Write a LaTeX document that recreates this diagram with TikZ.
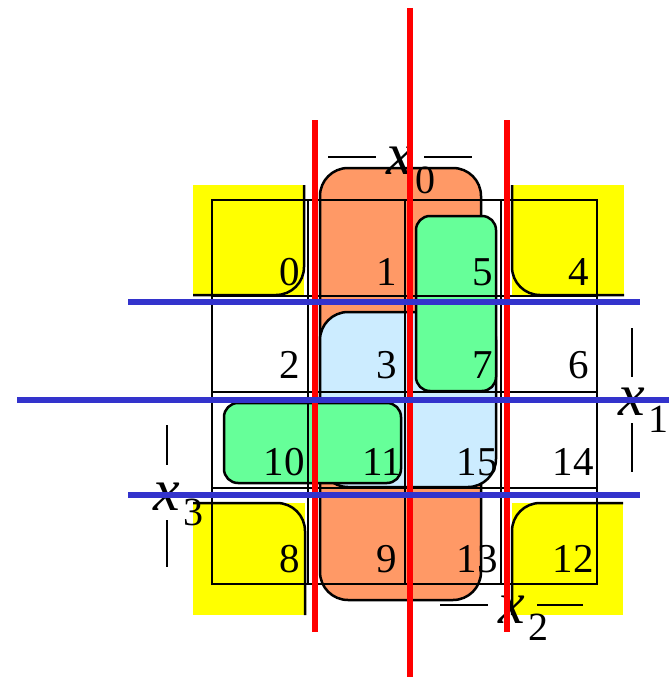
\documentclass[tikz,border=0pt]{standalone}
\usepackage{fontspec}
\setmainfont{Liberation Serif}
\begin{document}
\begin{tikzpicture}[x=1pt,y=-1pt,
  cellnum/.style={anchor=base east,inner sep=0pt,font=\fontsize{41}{44}\selectfont},
  varx/.style={anchor=base,inner sep=0pt,font=\fontsize{60}{62}\selectfont\itshape},
  varsub/.style={anchor=base,inner sep=0pt,font=\fontsize{40}{44}\selectfont},
  edge/.style={draw=black,line width=2.5pt},
  bar/.style={black,line width=1.8pt},
  redline/.style={draw=red,line width=5.5pt},
  blueline/.style={draw=linecol,line width=5.5pt}]
\definecolor{ylw}{HTML}{FFFF00}
\definecolor{org}{HTML}{FF9966}
\definecolor{grn}{HTML}{66FF99}
\definecolor{lbl}{HTML}{CCECFF}
\definecolor{linecol}{HTML}{3333CC}
\useasboundingbox (0,0) rectangle (669,677);
% yellow corners
\fill[ylw] (193,185) rectangle (304,295);
\draw[edge,rounded corners=28] (304,185) -- (304,295) -- (193,295);
\fill[ylw] (512,185) rectangle (624,295);
\draw[edge,rounded corners=28] (512,185) -- (512,295) -- (624,295);
\fill[ylw] (193,503) rectangle (305,615);
\draw[edge,rounded corners=28] (193,503) -- (305,503) -- (305,615);
\fill[ylw] (512,503) rectangle (623,615);
\draw[edge,rounded corners=28] (623,503) -- (512,503) -- (512,615);
% groups
\filldraw[fill=org,edge,rounded corners=28] (320,168) rectangle (481,600);
\filldraw[fill=lbl,edge,rounded corners=28] (320,312) rectangle (496,487);
\filldraw[fill=grn,edge,rounded corners=14] (416,216) rectangle (496,391);
\filldraw[fill=grn,edge,rounded corners=14] (224,403) rectangle (401,483);
% grid
\draw[edge] (212,200) rectangle (597,584);
\foreach \c in {308,405,501} \draw[edge] (\c,200) -- (\c,584);
\foreach \r in {296,392,488} \draw[edge] (212,\r) -- (597,\r);
% numbers
\node[cellnum] (n0) at (300,285) {0};
\node[cellnum] (n1) at (397,285) {1};
\node[cellnum] (n5) at (493,285) {5};
\node[cellnum] (n4) at (589,285) {4};
\node[cellnum] (n2) at (300,378) {2};
\node[cellnum] (n3) at (397,378) {3};
\node[cellnum] (n7) at (493,378) {7};
\node[cellnum] (n6) at (589,378) {6};
\node[cellnum] (n10) at (305,475) {10};
\node[cellnum] (n11) at (402,475) {11};
\node[cellnum] (n15) at (498,475) {15};
\node[cellnum] (n14) at (594,475) {14};
\node[cellnum] (n8) at (300,572) {8};
\node[cellnum] (n9) at (397,572) {9};
\node[cellnum] (n13) at (498,572) {13};
\node[cellnum] (n12) at (594,572) {12};
% variable labels
\node[varx] (x0) at (400,174) {x};
\node[varsub] (s0) at (425,193) {0};
\draw[bar] (328,157) -- (376,157);
\draw[bar] (424,157) -- (472,157);
\node[varx] (x1) at (632,415) {x};
\node[varsub] (s1) at (658,432) {1};
\draw[bar] (632,328) -- (632,377);
\draw[bar] (632,423) -- (632,472);
\node[varx] (x2) at (512,623) {x};
\node[varsub] (s2) at (538,640) {2};
\draw[bar] (440,605) -- (488,605);
\draw[bar] (537,605) -- (583,605);
\node[varx] (x3) at (167,510) {x};
\node[varsub] (s3) at (193,525) {3};
\draw[bar] (167,425) -- (167,465);
\draw[bar] (167,520) -- (167,567);
% dividing lines
\draw[redline] (410,8) -- (410,677);
\draw[redline] (315,120) -- (315,632);
\draw[redline] (507,120) -- (507,632);
\draw[blueline] (128,302) -- (640,302);
\draw[blueline] (17,400) -- (669,400);
\draw[blueline] (128,495) -- (640,495);
\end{tikzpicture}
\end{document}
